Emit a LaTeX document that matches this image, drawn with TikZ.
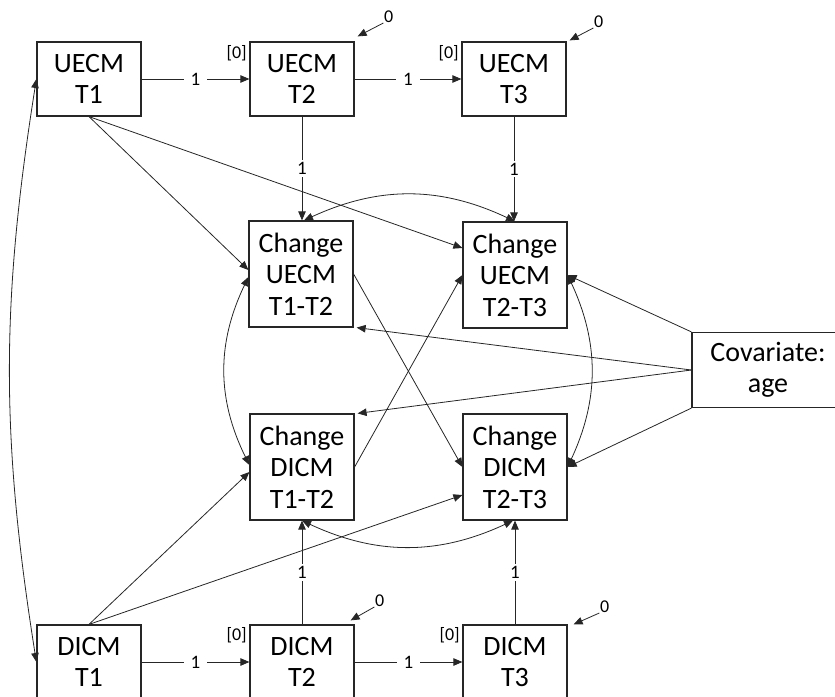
\documentclass[tikz,border=0pt]{standalone}
\usepackage{fontspec}
\setmainfont{Carlito}
\usetikzlibrary{arrows.meta}

\tikzset{
  box/.style={draw=black!85, line width=1.2pt, minimum width=104pt, inner sep=0pt,
    align=center, font=\fontsize{28}{31.5}\selectfont},
  varbox/.style={box, minimum height=74pt},
  chgbox/.style={box, minimum height=106pt},
  link/.style={draw=black!85, line width=0.8pt, -{Triangle[length=9pt,width=7.5pt]}},
  twoway/.style={link, {Triangle[length=9pt,width=7.5pt]}-{Triangle[length=9pt,width=7.5pt]}},
  lab/.style={fill=white, inner xsep=7pt, inner ysep=2pt, font=\fontsize{19}{21}\selectfont},
  small/.style={inner sep=0.5pt, font=\fontsize{18}{20}\selectfont},
}

\begin{document}
\begin{tikzpicture}[x=1pt, y=1pt]
		%%%%% START %%%%%
		\useasboundingbox (0,0) rectangle (835,-696);
		\clip (0,0) rectangle (835,-696);
		
		% observed scores
		\node[varbox] (uT1) at (89,-79) {UECM\\T1};
		\node[varbox] (uT2) at (302,-79) {UECM\\T2};
		\node[varbox] (uT3) at (514,-79) {UECM\\T3};
		\node[varbox] (dT1) at (89,-662) {DICM\\T1};
		\node[varbox] (dT2) at (302,-662) {DICM\\T2};
		\node[varbox] (dT3) at (515,-662) {DICM\\T3};
		
		% latent change
		\node[chgbox] (cU12) at (301,-274) {Change\\UECM\\T1-T2};
		\node[chgbox] (cU23) at (515,-275) {Change\\UECM\\T2-T3};
		\node[chgbox] (cD12) at (302,-467) {Change\\DICM\\T1-T2};
		\node[chgbox] (cD23) at (515,-467) {Change\\DICM\\T2-T3};
		
		\node[box, minimum width=152pt, minimum height=75pt] (age) at (768,-370) {Covariate:\\age};
		
		% fixed intercepts and residuals
		\node[small, anchor=north east] (iU2) at ([xshift=-2pt,yshift=-3pt]uT2.north west) {[0]};
		\node[small, anchor=north east] (iU3) at ([xshift=-2pt,yshift=-3pt]uT3.north west) {[0]};
		\node[small, anchor=north east] (iD2) at ([xshift=-2pt,yshift=-2pt]dT2.north west) {[0]};
		\node[small, anchor=north east] (iD3) at ([xshift=-2pt,yshift=-2pt]dT3.north west) {[0]};
		
		\node[small] (eU2) at ([shift={(34pt,25pt)}]uT2.north east) {0};
		\node[small] (eU3) at ([shift={(32pt,20pt)}]uT3.north east) {0};
		\node[small] (eD2) at ([shift={(25pt,24pt)}]dT2.north east) {0};
		\node[small] (eD3) at ([shift={(37pt,18pt)}]dT3.north east) {0};
		\draw[link] (eU2.south west) -- ([shift={(3pt,5pt)}]uT2.north east);
		\draw[link] (eU3.south west) -- ([shift={(3pt,1pt)}]uT3.north east);
		\draw[link] (eD2.south west) -- ([shift={(-4pt,4pt)}]dT2.north east);
		\draw[link] (eD3.south west) -- ([shift={(6pt,0pt)}]dT3.north east);
		
		% autoregressive paths
		\draw[link] (uT1) -- node[lab]{1} (uT2);
		\draw[link] (uT2) -- node[lab]{1} (uT3);
		\draw[link] (dT1) -- node[lab]{1} (dT2);
		\draw[link] (dT2) -- node[lab]{1} (dT3);
		\draw[link] (uT2.south) -- node[lab]{1} (uT2.south |- cU12.north);
		\draw[link] (uT3.south) -- node[lab]{1} (uT3.south |- cU23.north);
		\draw[link] (dT2.north) -- node[lab]{1} (dT2.north |- cD12.south);
		\draw[link] (dT3.north) -- node[lab]{1} (dT3.north |- cD23.south);
		
		% cross paths
		\draw[link] (uT1.south) -- ([yshift=4pt]cU12.west);
		\draw[link] (uT1.south) -- ([yshift=27pt]cU23.west);
		\draw[link] (dT1.north) -- ([yshift=-5pt]cD12.west);
		\draw[link] (dT1.north) -- ([yshift=-28pt]cD23.west);
		\draw[link] (cU12.east) -- (cD23.west);
		\draw[link] (cD12.east) -- (cU23.west);
		
		% covariate
		\draw[link] (age.west) -- ([xshift=3pt]cU12.south east);
		\draw[link] (age.west) -- ([xshift=3pt]cD12.north east);
		\draw[link] (age.north west) -- (cU23.east);
		\draw[link] (age.south west) -- (cD23.east);
		
		% covariances
		\draw[twoway] ([xshift=3pt]cU12.north) to[bend left=25] (cU23.north);
		\draw[twoway] (cD12.south) to[bend right=25] ([xshift=-2pt]cD23.south);
		\draw[twoway] ([yshift=-3pt]cU12.west) to[bend right=26] ([yshift=2pt]cD12.west);
		\draw[twoway] (cU23.east) to[bend left=25] (cD23.east);
		\draw[twoway] (uT1.west) to[bend right=9] (dT1.west);
		
		%%%%% END %%%%%
\end{tikzpicture}
\end{document}
